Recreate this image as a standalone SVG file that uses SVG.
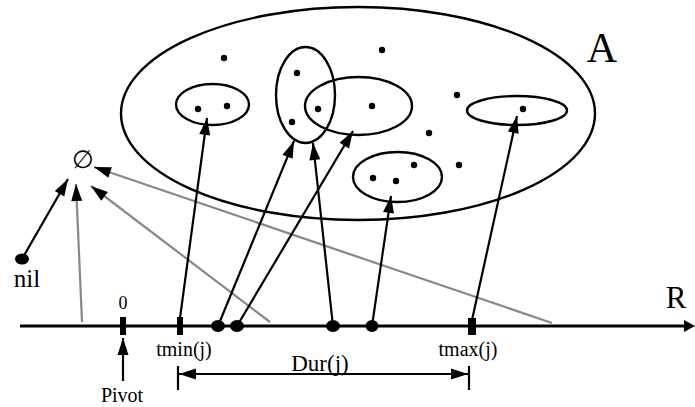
<svg xmlns="http://www.w3.org/2000/svg" width="695" height="407" viewBox="0 0 695 407">
<style>
.set{fill:none;stroke:#000;stroke-width:2.4}
.dot{fill:#000}
.blk{stroke:#000;stroke-width:2.2;fill:none}
.gry{stroke:#888;stroke-width:2.2;fill:none}
.t{font-family:"Liberation Serif","Times New Roman",serif;fill:#000}
</style>
<defs>
<marker id="ah" markerUnits="userSpaceOnUse" viewBox="-18 -7 20 14" markerWidth="20" markerHeight="14" refX="0" refY="0" orient="auto-start-reverse">
<path d="M0,0 L-17,-5.5 L-17,5.5 Z" fill="#000"/>
</marker>
</defs>
<rect width="695" height="407" fill="#fff"/>
<g id="setA">
<ellipse class="set" cx="358" cy="113.5" rx="237" ry="106.5"/>
<text class="t" x="602" y="62" font-size="42" text-anchor="middle">A</text>
<circle class="dot" cx="224" cy="58" r="3.2"/>
<circle class="dot" cx="382" cy="50" r="3.2"/>
<circle class="dot" cx="457" cy="95" r="3.2"/>
<circle class="dot" cx="429" cy="133" r="3.2"/>
<circle class="dot" cx="459" cy="165" r="3.2"/>
</g>
<g id="s1">
<ellipse class="set" cx="212.5" cy="104.5" rx="36.5" ry="20.5"/>
<circle class="dot" cx="198" cy="109" r="3.2"/>
<circle class="dot" cx="227" cy="106" r="3.2"/>
</g>
<g id="s2">
<ellipse class="set" cx="305.5" cy="95" rx="29.5" ry="48"/>
<circle class="dot" cx="297" cy="73" r="3.2"/>
<circle class="dot" cx="292" cy="122" r="3.2"/>
</g>
<g id="s3">
<ellipse class="set" cx="358.5" cy="106" rx="53.5" ry="29"/>
<circle class="dot" cx="318" cy="109" r="3.2"/>
<circle class="dot" cx="372" cy="106" r="3.2"/>
</g>
<g id="s4">
<ellipse class="set" cx="517" cy="110.5" rx="50" ry="14.5"/>
<circle class="dot" cx="523" cy="109" r="3.2"/>
</g>
<g id="s5">
<ellipse class="set" cx="397.5" cy="177" rx="44.5" ry="25"/>
<circle class="dot" cx="373" cy="178" r="3.2"/>
<circle class="dot" cx="396" cy="181" r="3.2"/>
<circle class="dot" cx="414" cy="165" r="3.2"/>
</g>
<g id="empty">
<text class="t" x="83" y="168" font-size="25" text-anchor="middle">∅</text>
</g>
<g id="nil">
<ellipse class="dot" cx="22" cy="259" rx="7" ry="5.5"/>
<text class="t" x="27" y="287" font-size="25" text-anchor="middle">nil</text>
</g>
<g id="axisR">
<line x1="20" y1="326" x2="686" y2="326" stroke="#000" stroke-width="3"/>
<path d="M695,326 L684,320 L684,332 Z" fill="#000"/>
<text class="t" x="676" y="308" font-size="31" text-anchor="middle">R</text>
</g>
<g id="zero">
<rect x="120" y="317" width="6" height="18" fill="#000"/>
<text class="t" x="123" y="309" font-size="18" text-anchor="middle">0</text>
</g>
<g id="tmin">
<rect x="177" y="317" width="6" height="18" fill="#000"/>
<text class="t" x="184" y="356" font-size="20" text-anchor="middle">tmin(j)</text>
</g>
<g id="tmax">
<rect x="468" y="318" width="8" height="17" fill="#000"/>
<text class="t" x="468" y="356" font-size="20" text-anchor="middle">tmax(j)</text>
</g>
<g id="points">
<ellipse class="dot" cx="218" cy="326" rx="7" ry="6"/>
<ellipse class="dot" cx="237" cy="326" rx="7" ry="6"/>
<ellipse class="dot" cx="333" cy="326" rx="7" ry="6"/>
<ellipse class="dot" cx="372" cy="326" rx="6.5" ry="6"/>
</g>
<g id="pivot">
<text class="t" x="122" y="402" font-size="20" text-anchor="middle">Pivot</text>
</g>
<g id="dur">
<text class="t" x="320" y="371" font-size="23" text-anchor="middle">Dur(j)</text>
<line x1="178" y1="366" x2="178" y2="390" stroke="#000" stroke-width="2.2"/>
<line x1="469" y1="366" x2="469" y2="390" stroke="#000" stroke-width="2.2"/>
</g>
<g id="connectors">
<line class="gry" x1="82" y1="322" x2="76" y2="184" marker-end="url(#ah)"/>
<line class="gry" x1="270" y1="322" x2="91" y2="186" marker-end="url(#ah)"/>
<line class="gry" x1="552" y1="323" x2="94" y2="167" marker-end="url(#ah)"/>
<line class="blk" x1="22" y1="259" x2="68" y2="179" marker-end="url(#ah)"/>
<line class="blk" x1="180" y1="318" x2="207" y2="118" marker-end="url(#ah)"/>
<line class="blk" x1="218" y1="326" x2="294" y2="141" marker-end="url(#ah)"/>
<line class="blk" x1="237" y1="326" x2="353" y2="131" marker-end="url(#ah)"/>
<line class="blk" x1="333" y1="326" x2="313" y2="143" marker-end="url(#ah)"/>
<line class="blk" x1="372" y1="326" x2="391" y2="196" marker-end="url(#ah)"/>
<line class="blk" x1="472" y1="320" x2="517" y2="116" marker-end="url(#ah)"/>
<line class="blk" x1="123" y1="381" x2="123" y2="338" marker-end="url(#ah)"/>
<line class="blk" x1="179" y1="374" x2="468" y2="374" marker-start="url(#ah)" marker-end="url(#ah)"/>
</g>
</svg>
